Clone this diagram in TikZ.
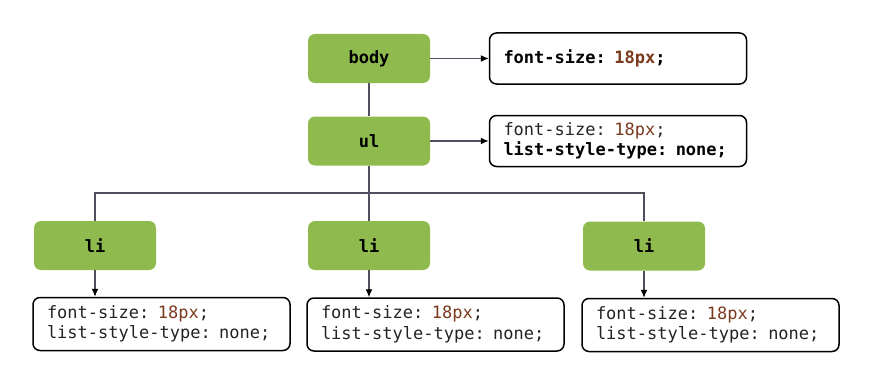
\documentclass[tikz,border=0pt]{standalone}
\usepackage{fontspec}
\setmonofont{DejaVu Sans Mono}
\usetikzlibrary{arrows.meta}
\definecolor{tagg}{RGB}{143,187,78}
\definecolor{numc}{RGB}{122,58,30}
\definecolor{txtc}{RGB}{35,35,35}
\definecolor{linec}{RGB}{80,78,95}
\begin{document}
\begin{tikzpicture}[x=1pt,y=-1pt,
  tagbox/.style={fill=tagg,rounded corners=7pt,minimum width=122pt,minimum height=49pt,inner sep=0pt,font=\fontsize{17}{20}\selectfont\ttfamily\bfseries,text=black},
  propbox/.style={draw=black,line width=1.5pt,rounded corners=7pt,minimum width=257pt,minimum height=51pt,text width=229pt,inner xsep=14pt,inner ysep=0pt,align=left,font=\fontsize{17}{20.5}\selectfont\ttfamily,text=txtc},
  conn/.style={draw=linec,line width=1.2pt},
  arr/.style={conn,arrows={-{Latex[length=8pt,width=7pt,color=black]}}}
]
\useasboundingbox (0,0) rectangle (883,369);
\fill[white] (0,0) rectangle (883,369);

\node[tagbox] (body) at (369,58.5) {body};
\node[tagbox] (ul) at (369,141) {ul};
\node[tagbox] (li1) at (95,245.5) {li};
\node[tagbox] (li2) at (369,245.5) {li};
\node[tagbox] (li3) at (644,246) {li};

\node[propbox] (pbody) at (618,58.5) {\bfseries\color{black}font-size: \textcolor{numc}{18px};};
\node[propbox] (pul) at (618,141) {font-size: \textcolor{numc}{18px};\\{\bfseries\color{black}list-style-type: none;}};
\node[propbox,minimum height=53pt] (p1) at (161.5,324) {font-size: \textcolor{numc}{18px};\\list-style-type: none;};
\node[propbox,minimum height=53pt] (p2) at (435.5,324.5) {font-size: \textcolor{numc}{18px};\\list-style-type: none;};
\node[propbox,minimum height=53pt] (p3) at (710.5,325) {font-size: \textcolor{numc}{18px};\\list-style-type: none;};

\coordinate (bus) at (369,193);

\draw[conn] (body) -- (ul);
\draw[conn] (ul) -- (li2);
\draw[conn] (li1.north) |- (bus) -| (li3.north);

\draw[arr] (body) -- (pbody);
\draw[arr] (ul) -- (pul);
\draw[arr] (li1) -- (p1.north -| li1);
\draw[arr] (li2) -- (p2.north -| li2);
\draw[arr] (li3) -- (p3.north -| li3);
\end{tikzpicture}
\end{document}
